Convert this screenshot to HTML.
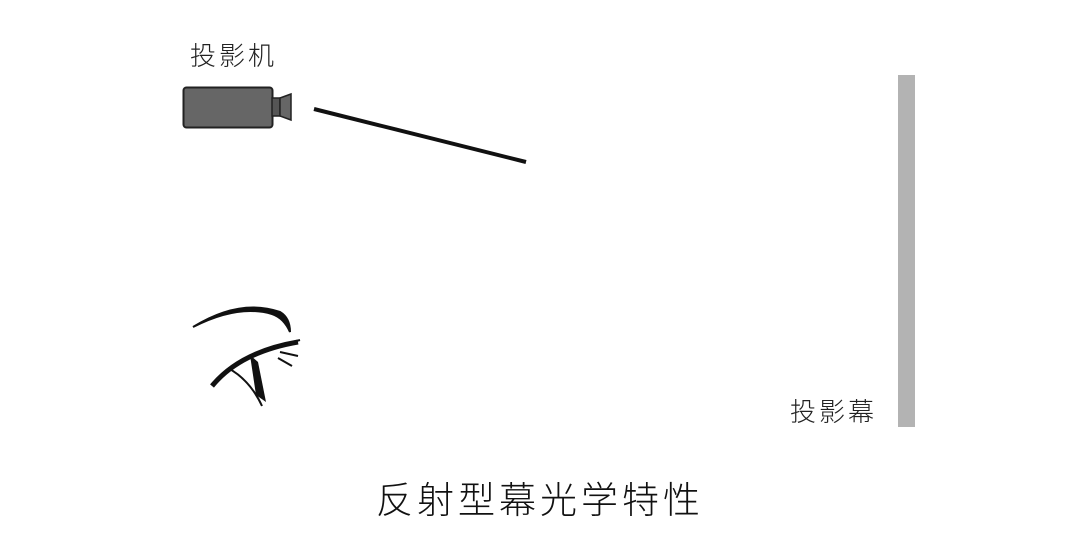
<!DOCTYPE html>
<html><head><meta charset="utf-8"><style>
html,body{margin:0;padding:0;background:#fff;}
body{width:1080px;height:540px;position:relative;overflow:hidden;font-family:"Liberation Sans","Noto Sans CJK SC",sans-serif;}
.t{position:absolute;color:#222;white-space:nowrap;font-weight:300;}
</style></head><body>
<div class="t" style="left:190px;top:36px;font-size:26px;letter-spacing:3px;">投影机</div>
<div class="t" style="left:790px;top:392px;font-size:26px;letter-spacing:3px;">投影幕</div>
<div class="t" style="left:376px;top:470px;font-size:37px;letter-spacing:4px;color:#111;">反射型幕光学特性</div>
<svg width="1080" height="540" style="position:absolute;left:0;top:0">
<rect x="183.5" y="87.5" width="89" height="40" rx="3" fill="#666" stroke="#222" stroke-width="2"/>
<rect x="272" y="98" width="8" height="18" fill="#555" stroke="#222" stroke-width="1.5"/>
<polygon points="280,98 291,94 291,120 280,116" fill="#666" stroke="#222" stroke-width="1.5"/>
<line x1="314" y1="109" x2="526" y2="162" stroke="#111" stroke-width="4"/>
<rect x="898" y="75" width="17" height="352" fill="#b3b3b3"/>
<path d="M193,327 Q240,298 280,312 Q290,318 290,332 Q284,318 272,314 Q238,304 193,327Z" fill="#111" stroke="#111" stroke-width="2"/>
<path d="M212,386 Q240,352 298,342" fill="none" stroke="#111" stroke-width="5"/>
<path d="M228,368 Q250,380 262,406" fill="none" stroke="#111" stroke-width="2"/>
<path d="M250,355 L258,362 L266,402 L256,395 Z" fill="#111"/>
<path d="M282,345 L300,340 M280,352 L298,356 M278,358 L292,366" stroke="#111" stroke-width="2"/>
</svg>
</body></html>
